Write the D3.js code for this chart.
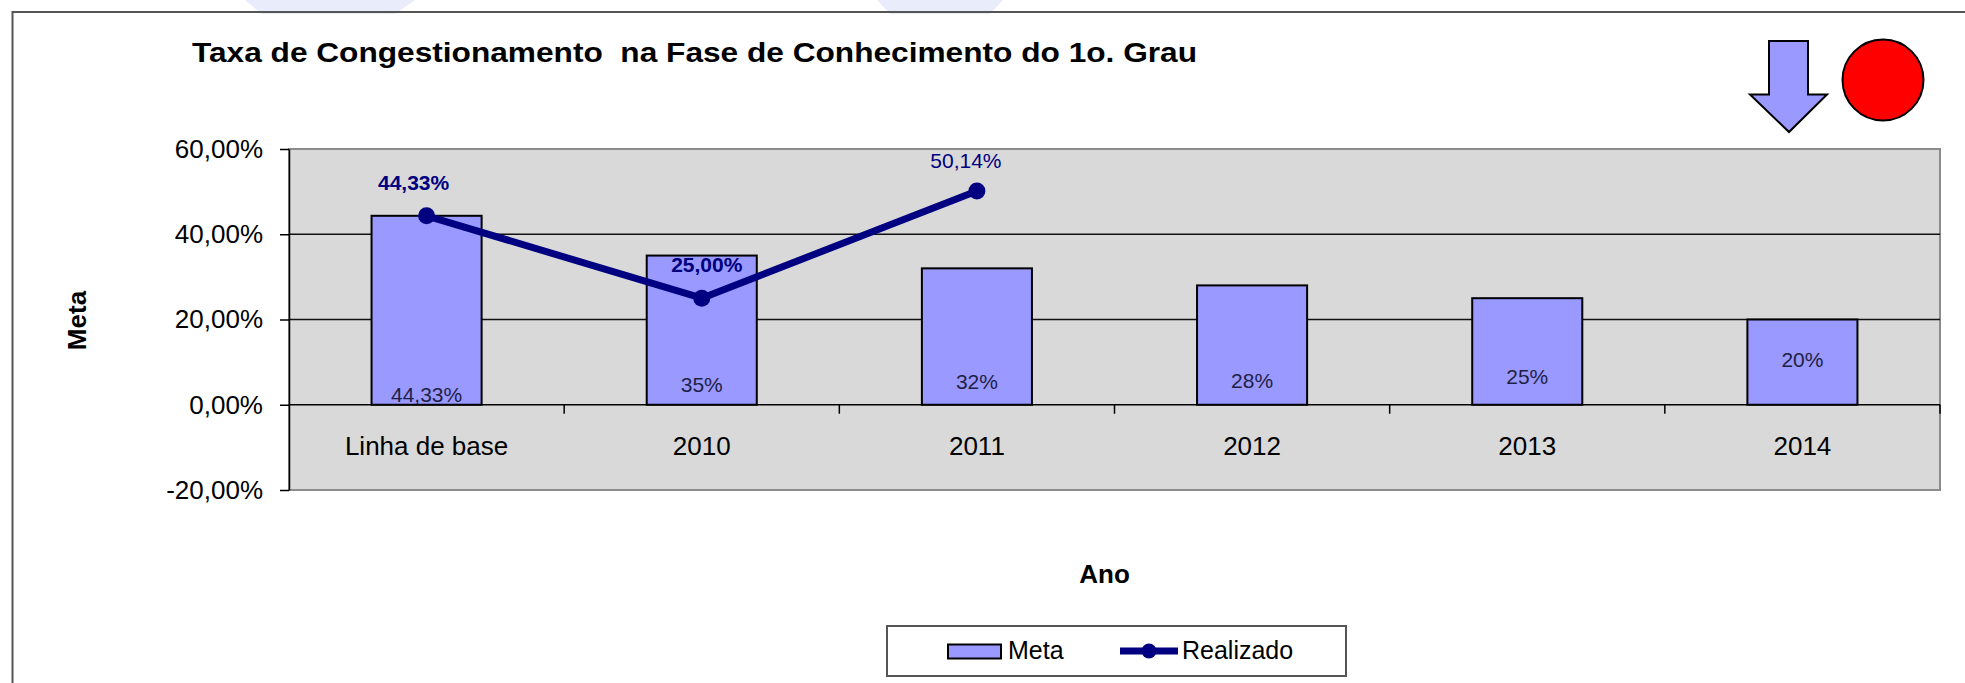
<!DOCTYPE html>
<html>
<head>
<meta charset="utf-8">
<script src="https://cdn.jsdelivr.net/npm/d3@7"></script>
<style>
  html, body { margin: 0; padding: 0; background: #ffffff; }
  svg { display: block; }
  text { font-family: "Liberation Sans", Arial, sans-serif; }
</style>
</head>
<body>
<svg id="chart" width="1965" height="683"></svg>
<script>
// ---------- data ----------
const categories = ["Linha de base", "2010", "2011", "2012", "2013", "2014"];
const metaValues = [0.4433, 0.35, 0.32, 0.28, 0.25, 0.20];
const metaLabels = ["44,33%", "35%", "32%", "28%", "25%", "20%"];
const realizadoCats = ["Linha de base", "2010", "2011"];
const realizadoValues = [0.4433, 0.25, 0.5014];
const realizadoLabels = ["44,33%", "25,00%", "50,14%"];
const yTickValues = [-0.2, 0, 0.2, 0.4, 0.6];
const yTickLabels = ["-20,00%", "0,00%", "20,00%", "40,00%", "60,00%"];
const titleText = "Taxa de Congestionamento  na Fase de Conhecimento do 1o. Grau";
const xTitle = "Ano";
const yTitle = "Meta";
const legendNames = ["Meta", "Realizado"];

// ---------- layout (positions / styles, not data) ----------
const metaLabelLift = [3, 13, 16, 17, 21, 38];
const realLabelDx = [-13, 5, -11];
const realLabelDy = [-26, -26, -23];
const realLabelWeight = ["bold", "bold", "normal"];
const BAR = "#9999ff", NAVY = "#000080";

const svg = d3.select("#chart");

// faint watermark shapes at top
svg.append("path").attr("d", "M245,0 L415,0 L395,14 L262,14 Z").attr("fill", "#e9ecfa");
svg.append("path").attr("d", "M877,0 L1003,0 L990,14 L890,14 Z").attr("fill", "#e9ecfa");

// outer frame
svg.append("rect").attr("x", 12.5).attr("y", 12).attr("width", 2000).attr("height", 800)
  .attr("fill", "none").attr("stroke", "#555").attr("stroke-width", 2);

// scales
const x = d3.scaleBand().domain(categories).range([289, 1940]).paddingInner(0).paddingOuter(0);
const y = d3.scaleLinear().domain([-0.2, 0.6]).range([490, 149]);

// plot area
svg.append("rect").attr("x", 289).attr("y", y(0.6)).attr("width", 1940 - 289).attr("height", y(-0.2) - y(0.6))
  .attr("fill", "#d9d9d9").attr("stroke", "#8c8c8c").attr("stroke-width", 2);

// gridlines
svg.append("g").selectAll("line").data(yTickValues.filter(v => v > 0 && v < 0.6)).join("line")
  .attr("x1", 289).attr("x2", 1940).attr("y1", d => y(d)).attr("y2", d => y(d))
  .attr("stroke", "#111").attr("stroke-width", 1.3);

// y axis
const yAxis = d3.axisLeft(y).tickValues(yTickValues)
  .tickFormat((d, i) => yTickLabels[i]).tickSize(9).tickSizeOuter(0).tickPadding(17);
const gy = svg.append("g").attr("transform", "translate(289,0)").call(yAxis);
gy.select(".domain").attr("stroke", "#000").attr("stroke-width", 1.5);
gy.selectAll(".tick line").attr("stroke", "#000").attr("stroke-width", 1.5);
gy.selectAll(".tick text").attr("font-size", 26).attr("fill", "#000")
  .attr("font-family", "Liberation Sans, Arial, sans-serif");

// bars
const bw = x.bandwidth() * 0.4;
svg.append("g").selectAll("rect").data(metaValues).join("rect")
  .attr("x", (d, i) => x(categories[i]) + (x.bandwidth() - bw) / 2)
  .attr("y", d => y(d)).attr("width", bw).attr("height", d => y(0) - y(d))
  .attr("fill", BAR).attr("stroke", "#000").attr("stroke-width", 2);

// x axis line at zero + ticks at band edges
svg.append("line").attr("x1", 289).attr("x2", 1940).attr("y1", y(0)).attr("y2", y(0))
  .attr("stroke", "#000").attr("stroke-width", 1.5);
const edges = categories.slice(1).map(c => x(c)).concat([x.range()[1]]);
svg.append("g").selectAll("line").data(edges).join("line")
  .attr("x1", d => d).attr("x2", d => d).attr("y1", y(0)).attr("y2", y(0) + 9)
  .attr("stroke", "#000").attr("stroke-width", 1.5);

// x labels
svg.append("g").selectAll("text").data(categories).join("text")
  .attr("x", d => x(d) + x.bandwidth() / 2).attr("y", 455)
  .attr("text-anchor", "middle").attr("font-size", 26).attr("fill", "#000").text(d => d);

// meta labels
svg.append("g").selectAll("text").data(metaValues).join("text")
  .attr("x", (d, i) => x(categories[i]) + x.bandwidth() / 2)
  .attr("y", (d, i) => y(0) - metaLabelLift[i])
  .attr("text-anchor", "middle").attr("font-size", 21).attr("fill", "#1f1f45")
  .text((d, i) => metaLabels[i]);

// realizado line
const cx = c => x(c) + x.bandwidth() / 2;
const line = d3.line().x((d, i) => cx(realizadoCats[i])).y(d => y(d));
svg.append("path").datum(realizadoValues).attr("d", line)
  .attr("fill", "none").attr("stroke", NAVY).attr("stroke-width", 7).attr("stroke-linejoin", "round");
svg.append("g").selectAll("circle").data(realizadoValues).join("circle")
  .attr("cx", (d, i) => cx(realizadoCats[i])).attr("cy", d => y(d)).attr("r", 8.5).attr("fill", NAVY);
svg.append("g").selectAll("text").data(realizadoValues).join("text")
  .attr("x", (d, i) => cx(realizadoCats[i]) + realLabelDx[i])
  .attr("y", (d, i) => y(d) + realLabelDy[i])
  .attr("text-anchor", "middle").attr("font-size", 21).attr("font-weight", (d, i) => realLabelWeight[i])
  .attr("fill", NAVY).text((d, i) => realizadoLabels[i]);

// title
svg.append("text").attr("x", 192).attr("y", 62).attr("font-size", 27).attr("font-weight", "bold")
  .attr("fill", "#000").attr("textLength", 1005).attr("lengthAdjust", "spacingAndGlyphs")
  .style("white-space", "pre").text(titleText);

// axis titles
svg.append("text").attr("x", 1104.5).attr("y", 583).attr("text-anchor", "middle")
  .attr("font-size", 26).attr("font-weight", "bold").text(xTitle);
svg.append("text").attr("transform", "translate(85.5,320.5) rotate(-90)").attr("text-anchor", "middle")
  .attr("font-size", 26).attr("font-weight", "bold").text(yTitle);

// legend
const lg = svg.append("g");
lg.append("rect").attr("x", 887).attr("y", 626).attr("width", 459).attr("height", 50)
  .attr("fill", "#fff").attr("stroke", "#555").attr("stroke-width", 2);
lg.append("rect").attr("x", 948).attr("y", 644.5).attr("width", 53).attr("height", 14)
  .attr("fill", BAR).attr("stroke", "#000").attr("stroke-width", 2);
lg.append("text").attr("x", 1008).attr("y", 658.5).attr("font-size", 25).text(legendNames[0]);
lg.append("line").attr("x1", 1120).attr("x2", 1178).attr("y1", 651).attr("y2", 651)
  .attr("stroke", NAVY).attr("stroke-width", 7);
lg.append("circle").attr("cx", 1149).attr("cy", 651).attr("r", 7.5).attr("fill", NAVY);
lg.append("text").attr("x", 1182).attr("y", 658.5).attr("font-size", 25).text(legendNames[1]);

// indicator arrow and status circle
svg.append("path")
  .attr("d", "M1769,41 L1808,41 L1808,94.5 L1827,94.5 L1789,132 L1750,94.5 L1769,94.5 Z")
  .attr("fill", BAR).attr("stroke", "#000").attr("stroke-width", 2).attr("stroke-linejoin", "miter");
svg.append("circle").attr("cx", 1883).attr("cy", 80).attr("r", 40.5)
  .attr("fill", "#ff0000").attr("stroke", "#000").attr("stroke-width", 2);
</script>
</body>
</html>
